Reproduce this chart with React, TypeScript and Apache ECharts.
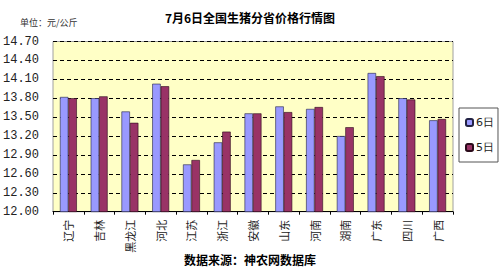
import React, { useEffect, useRef } from "react";
import * as echarts from "echarts";

const categories = ["辽宁", "吉林", "黑龙江", "河北", "江苏", "浙江", "安徽", "山东", "河南", "湖南", "广东", "四川", "广西"];
const day6 = [13.82, 13.80, 13.59, 14.03, 12.75, 13.10, 13.56, 13.67, 13.63, 13.20, 14.20, 13.80, 13.45];
const day5 = [13.80, 13.83, 13.41, 13.99, 12.82, 13.27, 13.56, 13.58, 13.66, 13.34, 14.15, 13.78, 13.47];
const seriesNames = ["6日", "5日"];
const title = "7月6日全国生猪分省价格行情图";
const unitText = "单位：元/公斤";
const sourceText = "数据来源：神农网数据库";

export default function App() {
  const ref = useRef<HTMLDivElement>(null);
  useEffect(() => {
    if (!ref.current) return;
    const chart = echarts.init(ref.current, null, { renderer: "svg" });
    chart.setOption({
      animation: false,
      backgroundColor: "#ffffff",
      title: {
        text: title,
        left: "center",
        top: 6,
        textStyle: { fontSize: 12, fontWeight: "bold", color: "#000", fontFamily: "Noto Sans CJK SC" },
      },
      graphic: [
        {
          type: "text",
          left: 20,
          top: 18,
          style: { text: unitText, fontSize: 9, fill: "#333", fontFamily: "Noto Sans CJK SC" },
        },
        {
          type: "text",
          left: "center",
          top: 253,
          style: { text: sourceText, fontSize: 12, fontWeight: "bold", fill: "#000", fontFamily: "Noto Sans CJK SC" },
        },
      ],
      legend: {
        orient: "vertical",
        left: 459,
        top: 108,
        width: 37,
        height: 54,
        padding: [9, 4, 9, 6],
        borderColor: "#555",
        borderWidth: 1,
        itemWidth: 7,
        itemHeight: 7,
        itemGap: 14,
        data: seriesNames,
        textStyle: { fontSize: 11, color: "#222", fontFamily: "DejaVu Sans", padding: [0, 0, 0, -2] },
      },
      grid: {
        left: 52,
        right: 47,
        top: 41.5,
        bottom: 65.3,
        show: true,
        backgroundColor: "#FFFFC6",
        borderColor: "#A0A0A0",
        borderWidth: 1,
      },
      xAxis: {
        type: "category",
        data: categories,
        axisLine: { lineStyle: { color: "#000", width: 1 } },
        axisTick: { show: true, inside: false, length: 3, lineStyle: { color: "#000" } },
        axisLabel: {
          rotate: 90,
          fontSize: 11,
          color: "#222",
          margin: 8,
          fontFamily: "Noto Sans CJK SC",
        },
      },
      yAxis: {
        type: "value",
        min: 12,
        max: 14.7,
        interval: 0.3,
        axisLine: { show: false },
        axisTick: { show: false },
        axisLabel: {
          formatter: (v: number) => v.toFixed(2),
          fontSize: 12,
          color: "#222",
          margin: 14,
          fontFamily: "Liberation Mono",
        },
        splitLine: { lineStyle: { type: [4, 3], color: "#000", width: 1 } },
      },
      series: [
        {
          name: seriesNames[0],
          type: "bar",
          data: day6,
          barGap: "0%",
          barCategoryGap: "45%",
          itemStyle: { color: "#9999FF", borderColor: "#222244", borderWidth: 0.6 },
        },
        {
          name: seriesNames[1],
          type: "bar",
          data: day5,
          barGap: "0%",
          barCategoryGap: "45%",
          itemStyle: { color: "#993366", borderColor: "#2a0a1a", borderWidth: 0.6 },
        },
      ],
    });
    return () => chart.dispose();
  }, []);
  return <div ref={ref} style={{ width: 500, height: 277, position: "absolute", left: 0, top: 0 }} />;
}
